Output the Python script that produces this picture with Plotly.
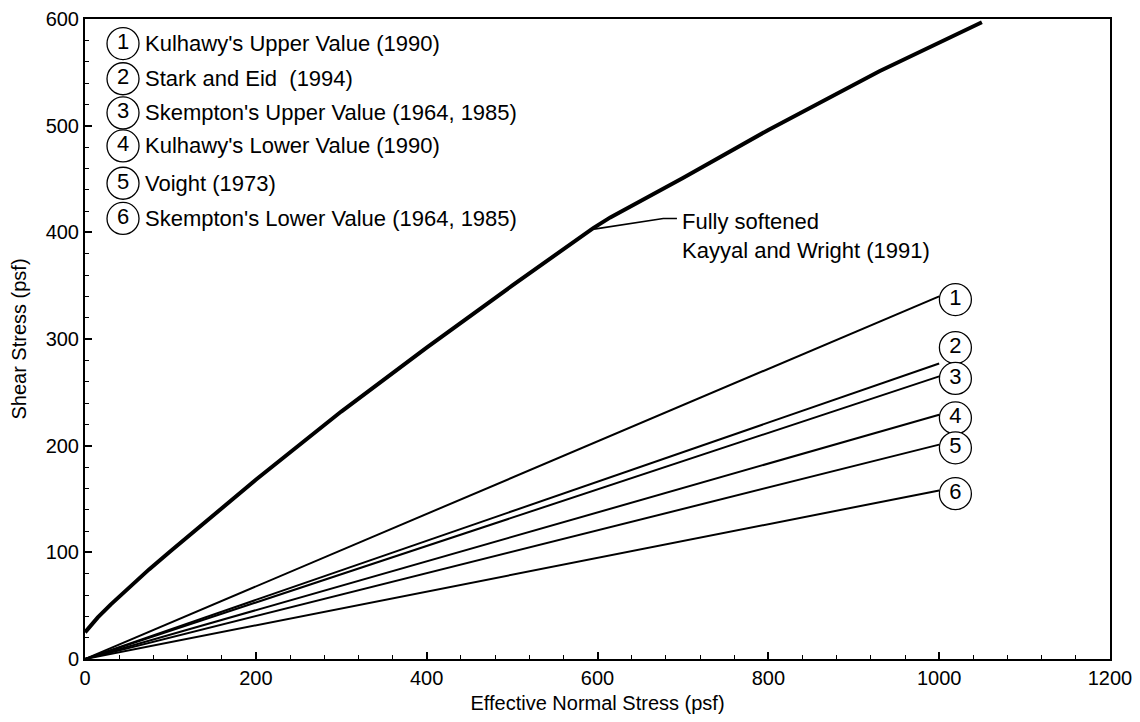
import plotly.graph_objects as go

# Fully softened curve (Kayyal and Wright 1991)
fs_x = [0, 15, 30, 50, 75, 100, 150, 200, 300, 400, 500, 575, 595, 615, 700, 800, 930, 1050]
fs_y = [25, 39, 51, 66, 84, 101, 135, 168, 232, 292, 350, 393, 404, 414, 451, 496, 551, 597]

# Straight-line envelopes, from origin to x = 1000
line_ids = ["1", "2", "3", "4", "5", "6"]
line_end_x = [1000, 1000, 1000, 1000, 1000, 1000]
line_end_y = [340, 277, 265, 229, 201, 158]

# Circled labels at the line ends
label_x = [1019, 1019, 1019, 1019, 1019, 1019]
label_y = [337, 292, 263, 226, 198, 155]

# Key in the upper-left corner
key_names = [
    "Kulhawy's Upper Value (1990)",
    "Stark and Eid  (1994)",
    "Skempton's Upper Value (1964, 1985)",
    "Kulhawy's Lower Value (1990)",
    "Voight (1973)",
    "Skempton's Lower Value (1964, 1985)",
]
key_circle_x = 44.5
key_text_x = 68
key_y = [577, 544, 512, 481, 446, 413]

# Leader line for the fully softened label
leader_x = [596, 677, 693]
leader_y = [403, 413, 413]
fs_label = "Fully softened<br>Kayyal and Wright (1991)"

FONT = "Liberation Sans, Arial, Helvetica, sans-serif"

fig = go.Figure()

fig.add_trace(go.Scatter(x=fs_x, y=fs_y, mode="lines",
                         line=dict(color="black", width=4),
                         showlegend=False, hoverinfo="skip"))

for ex, ey in zip(line_end_x, line_end_y):
    fig.add_trace(go.Scatter(x=[0, ex], y=[0, ey], mode="lines",
                             line=dict(color="black", width=2),
                             showlegend=False, hoverinfo="skip"))

fig.add_trace(go.Scatter(x=leader_x, y=leader_y, mode="lines",
                         line=dict(color="black", width=1.6),
                         showlegend=False, hoverinfo="skip"))

# circled numbers at line ends
fig.add_trace(go.Scatter(x=label_x, y=label_y, mode="markers+text",
                         text=line_ids, textposition="middle center",
                         textfont=dict(family=FONT, size=22, color="black"),
                         marker=dict(symbol="circle", size=32, color="white",
                                     line=dict(color="black", width=1.3)),
                         showlegend=False, hoverinfo="skip", cliponaxis=False))

# circled numbers in key
fig.add_trace(go.Scatter(x=[key_circle_x] * len(key_y), y=key_y, mode="markers+text",
                         text=line_ids, textposition="middle center",
                         textfont=dict(family=FONT, size=22, color="black"),
                         marker=dict(symbol="circle", size=32, color="white",
                                     line=dict(color="black", width=1.3)),
                         showlegend=False, hoverinfo="skip", cliponaxis=False))

for name, yy in zip(key_names, key_y):
    fig.add_annotation(x=key_text_x, y=yy, text=name, showarrow=False,
                       xanchor="left", yanchor="middle",
                       font=dict(family=FONT, size=22, color="black"))

fig.add_annotation(x=697, y=397, text=fs_label, showarrow=False,
                   xanchor="left", yanchor="middle", align="left",
                   font=dict(family=FONT, size=22, color="black"))

axis_common = dict(
    showgrid=False, zeroline=False, showline=True, linecolor="black", linewidth=2,
    mirror=True, ticks="inside", ticklen=7, tickwidth=1.5, tickcolor="black",
    tickfont=dict(family=FONT, size=20, color="black"),
    automargin=False, ticklabeloverflow="allow",
)

fig.update_xaxes(range=[0, 1200], dtick=200, tick0=0,
                 minor=dict(ticks="inside", ticklen=4, dtick=40, tickcolor="black", tickwidth=1),
                 title=dict(text="Effective Normal Stress (psf)", standoff=10,
                            font=dict(family=FONT, size=20, color="black")),
                 **axis_common)
fig.update_yaxes(range=[0, 600], dtick=100, tick0=0,
                 minor=dict(ticks="inside", ticklen=4, dtick=20, tickcolor="black", tickwidth=1),
                 title=dict(text="Shear Stress (psf)", standoff=14,
                            font=dict(family=FONT, size=20, color="black")),
                 **axis_common)

# page body adds an 8px margin; sizes compensate so the plot box sits where the reference has it
fig.update_layout(width=1124, height=706,
                  margin=dict(l=77, r=22, t=11, b=55),
                  paper_bgcolor="white", plot_bgcolor="white",
                  font=dict(family=FONT, color="black"))

fig.write_html("out.html")
